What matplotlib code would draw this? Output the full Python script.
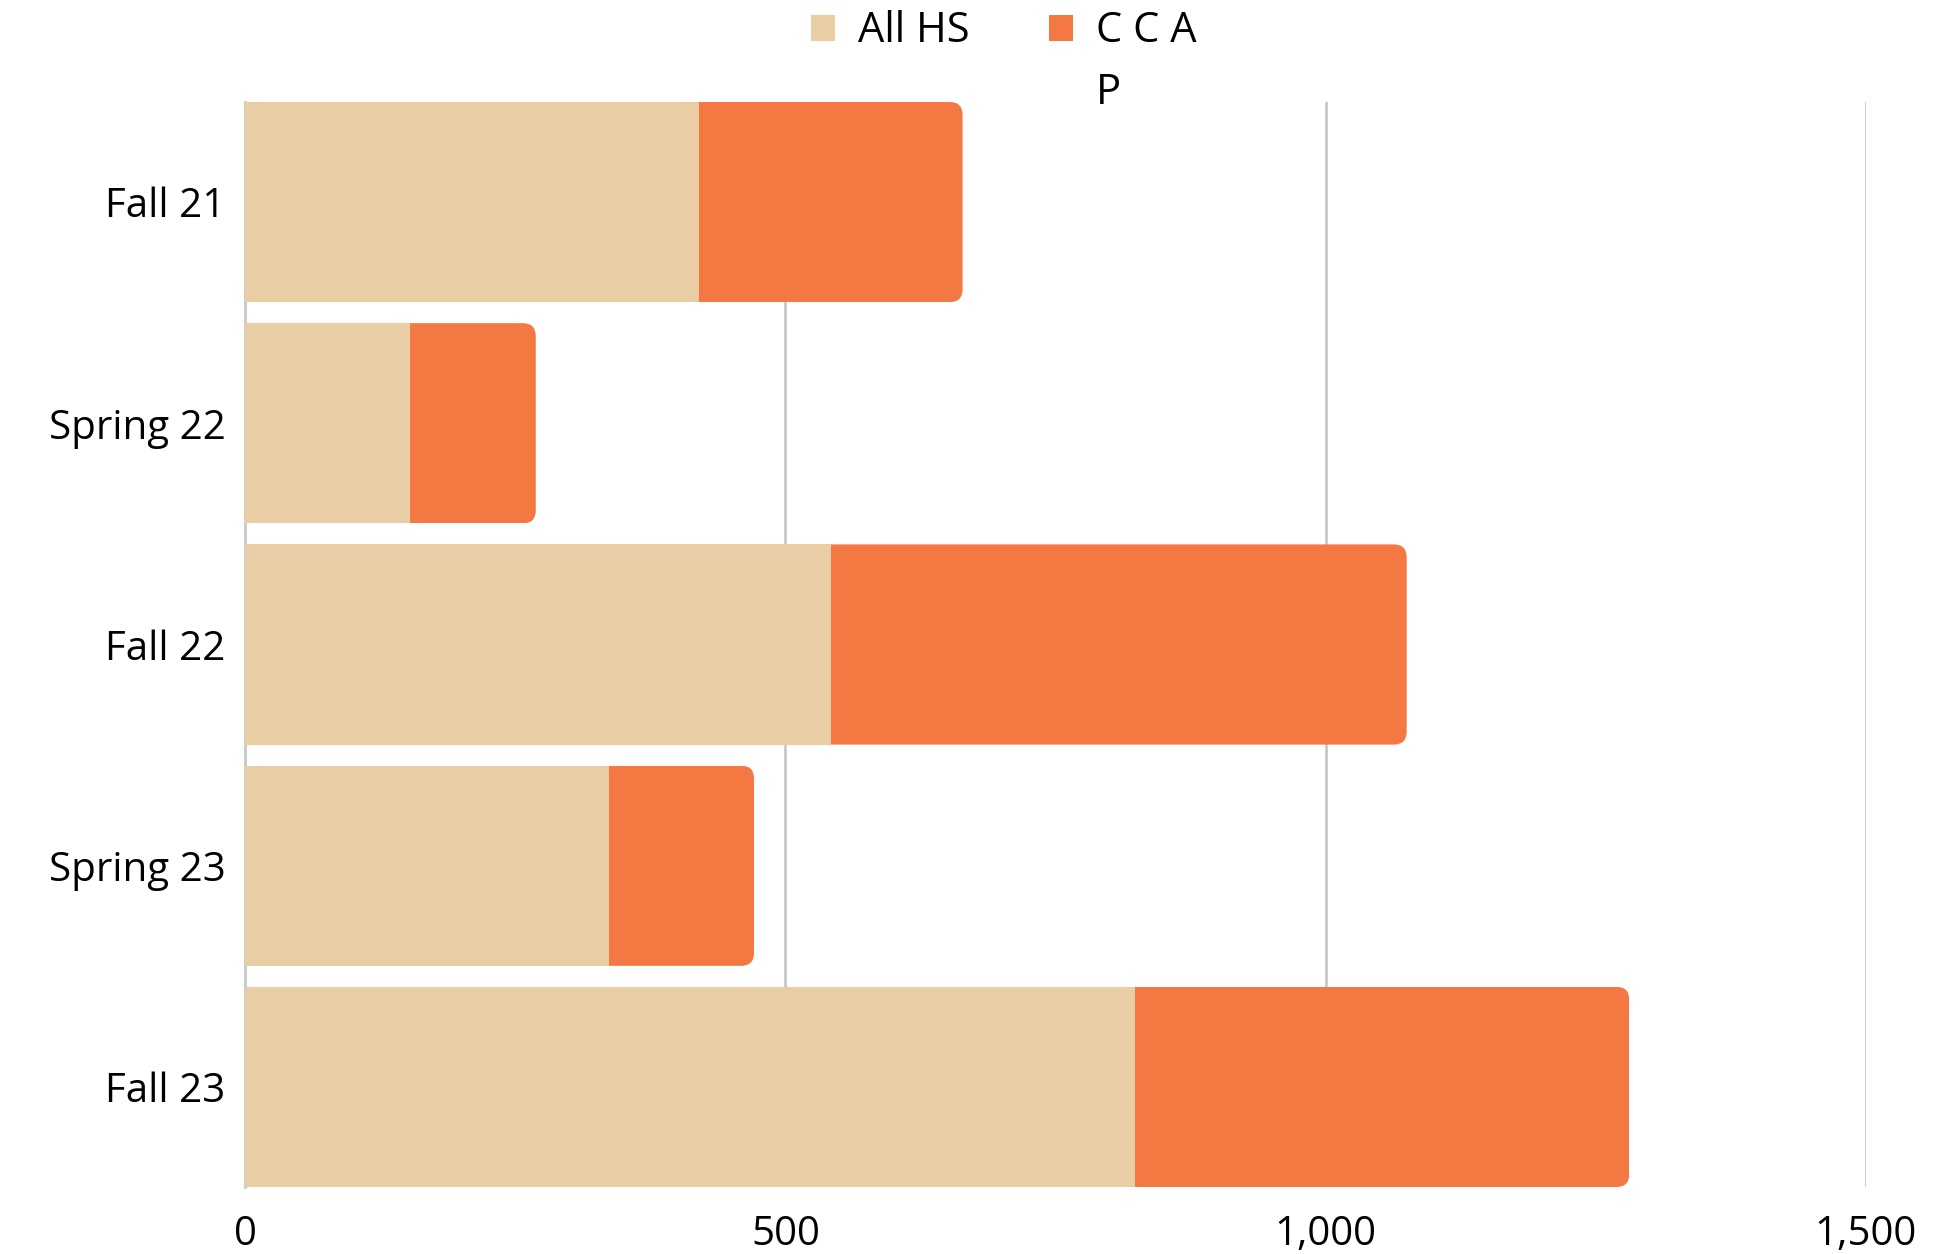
import matplotlib
matplotlib.use("Agg")
import matplotlib.pyplot as plt
import numpy as np
from matplotlib.patches import FancyBboxPatch, Patch
from matplotlib.ticker import FuncFormatter

terms = ["Fall 21", "Spring 22", "Fall 22", "Spring 23", "Fall 23"]
all_hs = [420, 153, 542, 337, 824]
ccap = [244, 116, 533, 134, 457]
x_ticks = [0, 500, 1000, 1500]

BEIGE = "#E9CDA5"
ORANGE = "#F47842"
GRID = "#C9C9C9"

plt.rcParams["font.family"] = ["Open Sans", "DejaVu Sans"]

W, H = 1959, 1254
fig = plt.figure(figsize=(W / 100, H / 100), dpi=100)
ax = fig.add_axes([0.1251, 0.0534, 0.9525 - 0.1251, 0.9187 - 0.0534])

y = np.arange(len(terms))
h = 0.905
ax.set_xlim(0, 1500)
ax.set_ylim(len(terms) - 1 + h / 2, -h / 2)

# orange segment: plain barh, then swapped for a right-rounded box clipped to the bar
orange = ax.barh(y, ccap, left=all_hs, height=h, color=ORANGE, zorder=2)
fig.canvas.draw()
px_x = ax.transData.transform((1, 0))[0] - ax.transData.transform((0, 0))[0]
px_y = abs(ax.transData.transform((0, 1))[1] - ax.transData.transform((0, 0))[1])
r = 13 / px_x
for p in orange.patches:
    x0, y0 = p.get_x(), p.get_y()
    w, hh = p.get_width(), p.get_height()
    p.set_visible(False)
    box = FancyBboxPatch((x0 - 3 * r, y0), w + 3 * r, hh,
                         boxstyle=f"round,pad=0,rounding_size={r}",
                         mutation_aspect=px_x / px_y,
                         facecolor=ORANGE, edgecolor="none", zorder=2)
    ax.add_patch(box)
    box.set_clip_path(p)

ax.barh(y, all_hs, height=h, color=BEIGE, zorder=3)

ax.set_yticks(y)
ax.set_yticklabels(terms, fontsize=29)
ax.set_xticks(x_ticks)
ax.xaxis.set_major_formatter(FuncFormatter(lambda v, _: f"{v:,.0f}"))
ax.tick_params(axis="x", labelsize=29, length=0, pad=20)
ax.tick_params(axis="y", length=0, pad=14)
ax.grid(axis="x", color=GRID, linewidth=2, zorder=0)
ax.set_axisbelow(True)
for s in ["top", "right", "bottom"]:
    ax.spines[s].set_visible(False)
ax.spines["left"].set_color(GRID)
ax.spines["left"].set_linewidth(2)
ax.spines["left"].set_zorder(1)

handles = [Patch(facecolor=BEIGE, label="All HS"),
           Patch(facecolor=ORANGE, label="C C A")]
leg = fig.legend(handles=handles, loc="upper center", bbox_to_anchor=(0.5125, 0.995),
                 ncol=2, frameon=False, fontsize=30, borderaxespad=0, borderpad=0.1,
                 handlelength=0.58, handleheight=0.58, handletextpad=0.55,
                 columnspacing=1.9)

# the CCAP label wraps in the source chart: last letter on a second line
fig.canvas.draw()
bb = leg.get_texts()[1].get_window_extent(fig.canvas.get_renderer())
fig.text(bb.x0 / W, (bb.y1 - 62) / H, "P", fontsize=30, ha="left", va="top")

fig.savefig("out.png", dpi=100)
